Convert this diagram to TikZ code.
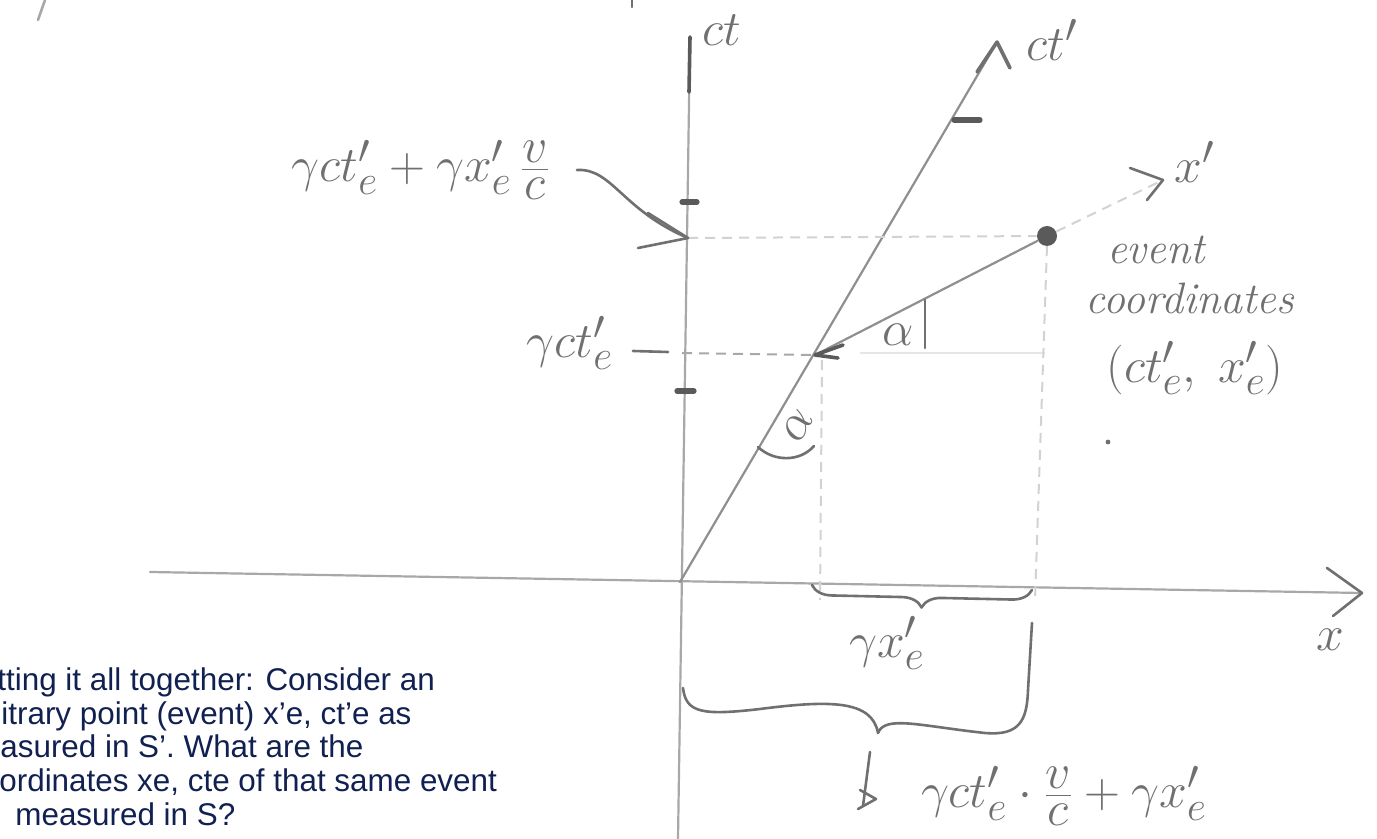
\documentclass[tikz,border=0pt]{standalone}
\usepackage{fontspec}
\newfontfamily\capfont{Liberation Sans}
\usetikzlibrary{arrows.meta,decorations.pathreplacing}
\definecolor{pencil}{HTML}{707070}
\definecolor{axisgray}{HTML}{A8A8A8}
\definecolor{darkpencil}{HTML}{5A5A5A}
\definecolor{faint}{HTML}{D2D2D2}
\definecolor{veryfaint}{HTML}{E6E6E6}
\definecolor{navy}{RGB}{16,32,80}
\newcommand{\hfr}[2]{\frac{\textstyle #1}{\textstyle #2}}
\begin{document}
\begin{tikzpicture}[x=0.5pt,y=-0.5pt,
  axisline/.style={draw=axisgray, line width=1.1pt, line cap=round},
  primeline/.style={draw=axisgray!85!black, line width=1.1pt, line cap=round},
  pen/.style={draw=pencil, line width=1.3pt, line cap=round, line join=round},
  tickmark/.style={draw=darkpencil, line width=2.6pt, line cap=round},
  guide/.style={draw=faint, line width=1pt, dash pattern=on 5pt off 3.5pt},
  hand/.style={text=pencil, inner sep=0pt, font=\fontsize{30}{32}\selectfont},
  handsmall/.style={text=pencil, inner sep=0pt, font=\fontsize{28}{30}\selectfont},
  handtext/.style={text=pencil, inner sep=0pt, font=\fontsize{22}{24}\selectfont\itshape},
  para/.style={text=navy, inner sep=0pt, anchor=base west, font=\capfont\fontsize{15.7}{17}\selectfont}
]
\useasboundingbox (0,0) rectangle (1377,839);

% key points
\coordinate (O) at (680,582);
\coordinate (cttop) at (690,37);
\coordinate (ctdark) at (689,92);
\coordinate (ctbot) at (678,839);
\coordinate (xleft) at (150,572);
\coordinate (xtip) at (1362,593);
\coordinate (ctptip) at (997,42);
\coordinate (P) at (815,355);
\node[circle, fill=darkpencil, inner sep=0pt, minimum size=10pt] (E) at (1047,236) {};
\coordinate (xparr) at (1163,180);
\coordinate (ctA) at (688,238);
\coordinate (ctB) at (682,353);
\coordinate (Pfoot) at (820,600);
\coordinate (Efoot) at (1035,600);

% axes
\draw[axisline] (ctbot) -- (cttop);
\draw[draw=darkpencil, line width=1.8pt, line cap=round] (cttop) -- (ctdark);
\draw[axisline] (xleft) -- (xtip);
\draw[pen] (1327,568) -- (xtip) -- (1333,616);
\draw[primeline] (O) -- (ctptip);
\draw[pen, line width=1.8pt] (977,72) -- (ctptip) -- (1010,68);

% x' line
\draw[primeline] (P) -- (E);
\draw[guide] (E) -- (xparr);
\draw[pen] (1130,168) -- (xparr) -- (1147,200);
\draw[draw=darkpencil, line width=1.8pt, line cap=round, line join=round] (843,345) -- (P) -- (838,358);

% ticks
\draw[tickmark] (682,202) -- (697,202);
\draw[tickmark] (677,391) -- (694,391);
\draw[tickmark] (954,120) -- (980,120);

% projection lines
\draw[guide] (ctA) -- (E);
\draw[guide, draw=axisgray] (ctB) -- (P);
\draw[draw=veryfaint, line width=1pt] (860,353) -- (1045,353);
\draw[guide] (822,360) -- (Pfoot);
\draw[guide] (1047,246) -- (Efoot);

% angles
\draw[pen] (925,300) -- (925,348);
\node[hand] (al1) at (898,335) {$\alpha$};
\draw[pen] (758,447) .. controls (774,462) and (800,462) .. (814,446);
\node[hand, rotate=60] (al2) at (798,426) {$\alpha$};

% labels
\node[hand] (lct) at (722,30) {$ct$};
\node[hand] (lctp) at (1052,40) {$ct'$};
\node[hand] (lxp) at (1195,162) {$x'$};
\node[hand] (lx) at (1330,640) {$x$};
\node[hand] (ltop) at (421,170) {$\gamma c t'_e + \gamma x'_e\,\hfr{v}{c}$};
\coordinate (arrstart) at (577,170);
\draw[pen] (arrstart) .. controls (612,168) and (622,210) .. (ctA);
\draw[pen] (648,213) -- (ctA) -- (638,248);
\node[hand] (lg) at (570,343) {$\gamma c t'_e$};
\draw[pen] (633,351) -- (668,352);

\node[handtext] (ev1) at (1156,250) {event};
\node[handtext] (ev2) at (1190,298) {coordinates};
\node[hand] (ev3) at (1195,368) {$\big(ct'_e,\; x'_e\big)$};
\fill[pencil] (1108,442) circle (1.2pt);

% braces
\draw[pen, decorate, decoration={brace, mirror, amplitude=10pt}] (812,585) -- (1032,590);
\node[hand] (lgx) at (887,643) {$\gamma x'_e$};
\draw[pen] (683,688) .. controls (686,712) and (700,716) .. (760,709)
  .. controls (830,700) and (872,700) .. (878,733)
  .. controls (885,715) and (920,726) .. (985,733)
  .. controls (1020,736) and (1027,720) .. (1028,690) -- (1032,623);
\draw[pen] (870,752) -- (863,806);
\draw[pen] (860,790) -- (876,799) -- (858,809);
\node[handsmall] (lbot) at (1064,796) {$\gamma c t'_e\cdot\hfr{v}{c} + \gamma x'_e$};

% fragments at top
\draw[pen, draw=axisgray] (45,0) -- (38,20);
\draw[pen] (632,0) -- (632,7);

% caption text
\node[para] (t1) at (-3,690) {tting it all together: Consider an};
\node[para] (t2) at (1,724) {itrary point (event) x’e, ct’e as};
\node[para] (t3) at (0,757) {asured in S’. What are the};
\node[para] (t4) at (-1,791) {ordinates xe, cte of that same event};
\node[para] (t5) at (15,825) {measured in S?};
\end{tikzpicture}
\end{document}
